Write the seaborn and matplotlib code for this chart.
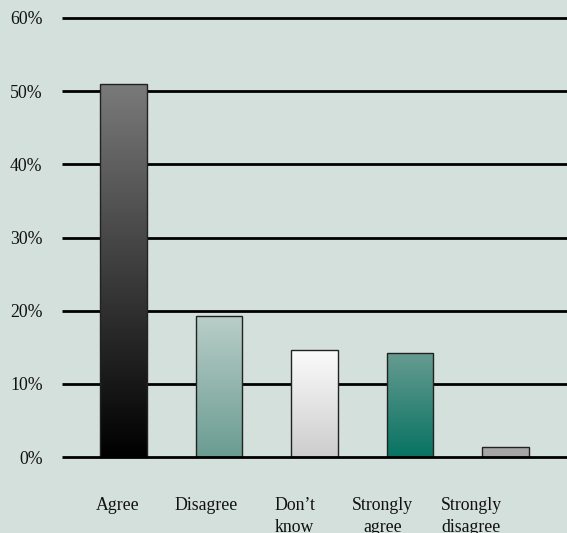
import numpy as np
import pandas as pd
import matplotlib
matplotlib.use("Agg")
import matplotlib.pyplot as plt
from matplotlib.colors import LinearSegmentedColormap
import seaborn as sns

# Survey responses (share of respondents, %)
categories = ["Agree", "Disagree", "Don\u2019t\nknow", "Strongly\nagree", "Strongly\ndisagree"]
shares = [51.0, 19.3, 14.6, 14.2, 1.4]
y_ticks = [0, 10, 20, 30, 40, 50, 60]
y_tick_labels = ["0%", "10%", "20%", "30%", "40%", "50%", "60%"]

# Vertical gradient for each bar: (top colour, bottom colour)
bar_gradients = [
    ("#7a7a7a", "#000000"),
    ("#bacec8", "#6a9c92"),
    ("#fbfbfb", "#cdcdcd"),
    ("#679b91", "#077362"),
    ("#a6a6a6", "#a6a6a6"),
]

bg = "#d4e0dc"
sns.set_theme(style="white")
plt.rcParams["font.family"] = ["Liberation Serif", "DejaVu Serif"]

df = pd.DataFrame({"response": categories, "share": shares})

fig = plt.figure(figsize=(5.67, 5.33), dpi=100, facecolor=bg)
ax = fig.add_axes([62 / 567, 76 / 533, 1 - 62 / 567, 439 / 533])
ax.set_facecolor(bg)

sns.barplot(data=df, x="response", y="share", ax=ax, width=0.49,
            color="#888888", edgecolor="#222222", linewidth=1.0, zorder=3)

xlim = (-0.642, 4.642)
ylim = (0, 60)

# Fill every bar with its vertical gradient
for patch, (top, bottom) in zip(ax.patches, bar_gradients):
    x0, w, h = patch.get_x(), patch.get_width(), patch.get_height()
    cmap = LinearSegmentedColormap.from_list("g", [bottom, top])
    grad = np.linspace(0, 1, 256).reshape(-1, 1)
    im = ax.imshow(grad, cmap=cmap, origin="lower", aspect="auto",
                   extent=[x0, x0 + w, 0, h], zorder=2.5)
    im.set_clip_path(patch)
    patch.set_facecolor("none")

ax.set_xlim(*xlim)
ax.set_ylim(*ylim)

# Horizontal rules behind the bars, baseline in front
ax.hlines(y_ticks[1:], *xlim, colors="black", linewidth=2.0, zorder=1, clip_on=False)
ax.hlines([0], *xlim, colors="black", linewidth=2.0, zorder=4, clip_on=False)

for s in ax.spines.values():
    s.set_visible(False)

ax.set_yticks(y_ticks)
ax.set_yticklabels(y_tick_labels, fontsize=12.8, color="#111111")
label_pos = [i * 0.924 - 0.057 for i in range(len(categories))]
ax.set_xticks(label_pos)
ax.set_xticklabels(categories, fontsize=12.8, color="#111111", linespacing=1.35)
ax.tick_params(axis="y", length=0, pad=14)
ax.tick_params(axis="x", length=0, pad=29)
ax.set_xlabel("")
ax.set_ylabel("")

fig.savefig("out.png", dpi=100, facecolor=bg)
